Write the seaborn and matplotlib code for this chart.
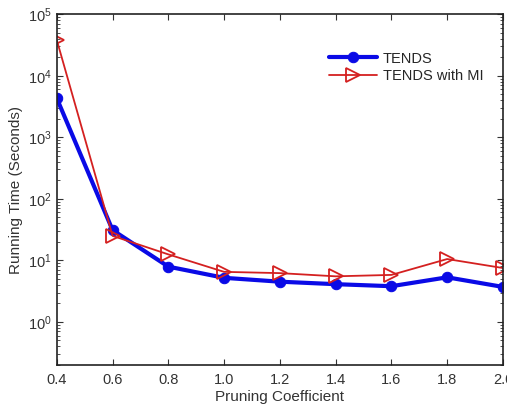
import pandas as pd
import matplotlib.pyplot as plt
import matplotlib.ticker as mticker
import seaborn as sns
import numpy as np

coef = [0.4, 0.6, 0.8, 1.0, 1.2, 1.4, 1.6, 1.8, 2.0]
tends = [4300, 31, 7.9, 5.2, 4.5, 4.1, 3.8, 5.3, 3.7]
tends_mi = [38000, 25, 12.5, 6.5, 6.2, 5.5, 5.8, 10.5, 7.5]

df = pd.DataFrame({"coef": coef, "TENDS": tends, "TENDS with MI": tends_mi})

sns.set_style("ticks")
plt.rcParams['font.family'] = ['Liberation Sans', 'DejaVu Sans']

fig = plt.figure(figsize=(5.07, 4.05), dpi=100)
ax = fig.add_axes([0.112, 0.099, 0.880, 0.866])

sns.lineplot(data=df, x="coef", y="TENDS", ax=ax, color="#0a0ae6", linewidth=3,
             marker="o", markersize=7.5, markeredgecolor="#0a0ae6", label="TENDS")
sns.lineplot(data=df, x="coef", y="TENDS with MI", ax=ax, color="#d42020", linewidth=1.3,
             marker=">", markersize=10, markerfacecolor="none", markeredgecolor="#d42020",
             markeredgewidth=1.3, label="TENDS with MI")

ax.set_yscale("log")
ax.set_xlim(0.4, 2.0)
ax.set_ylim(0.2, 1e5)
ax.set_xticks(coef)
ax.set_xticklabels([f"{c:.1f}" for c in coef])
ax.yaxis.set_major_locator(mticker.LogLocator(base=10, numticks=10))
ax.yaxis.set_minor_locator(mticker.LogLocator(base=10, subs=np.arange(2, 10), numticks=20))
ax.yaxis.set_minor_formatter(mticker.NullFormatter())

ax.tick_params(which="both", direction="in", top=True, right=True, labelsize=10.5,
               colors="#333333", labelcolor="#333333")
ax.tick_params(which="major", length=4.5, width=0.8)
ax.tick_params(which="minor", length=2, width=0.6)
ax.tick_params(axis="x", pad=6)
for s in ax.spines.values():
    s.set_color("#222222")
    s.set_linewidth(1.2)

ax.set_xlabel("Pruning Coefficient", fontsize=11, color="#333333", labelpad=2)
ax.set_ylabel("Running Time (Seconds)", fontsize=11, color="#333333", labelpad=4)

ax.legend(loc="upper right", bbox_to_anchor=(0.97, 0.91), frameon=False, fontsize=10.5,
          handlelength=3.3, borderaxespad=0, labelspacing=0.25, handletextpad=0.4)

fig.savefig("out.png", dpi=100)
